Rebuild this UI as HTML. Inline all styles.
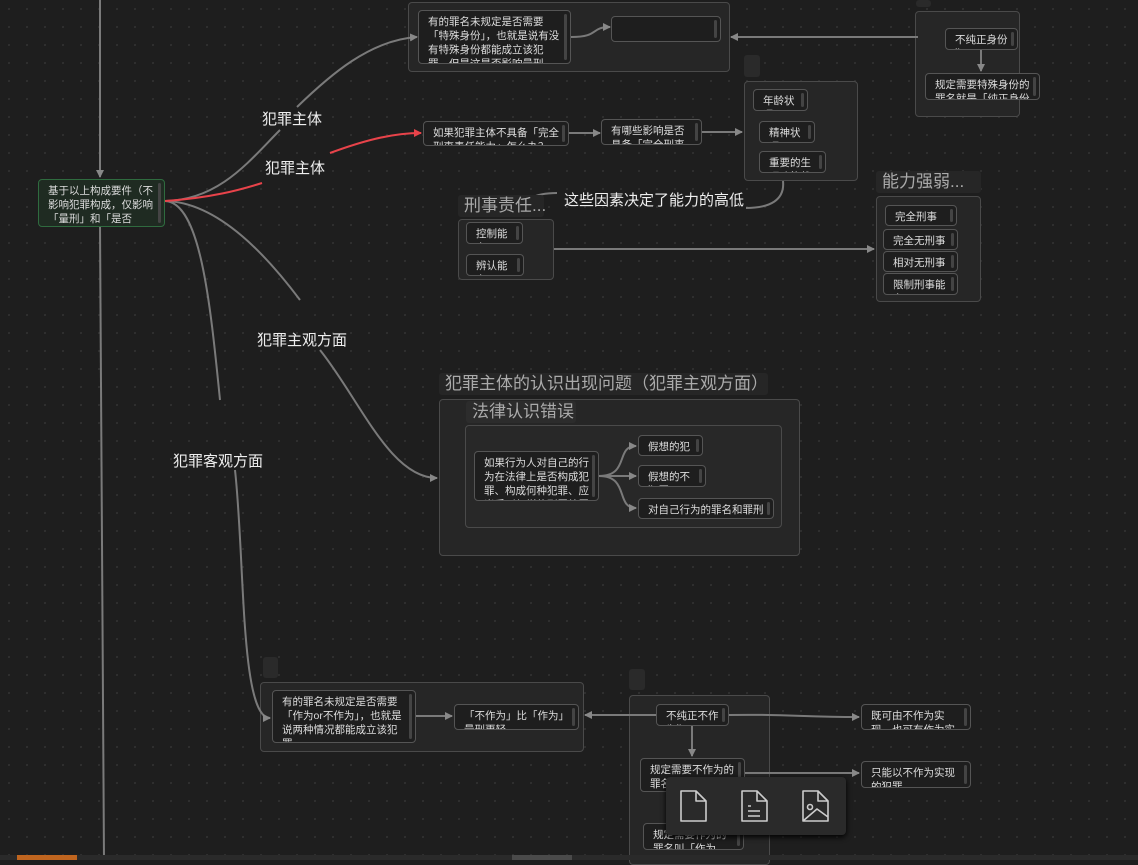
<!DOCTYPE html>
<html><head><meta charset="utf-8"><style>
*{margin:0;padding:0;box-sizing:border-box}
body{width:1138px;height:860px;overflow:hidden;background:#1e1e1e;background-image:radial-gradient(#303030 1px,transparent 1.2px);background-size:18px 18px;font-family:"Liberation Sans","Noto Sans CJK SC",sans-serif;position:relative}
.g{position:absolute;background:#262626;border:1px solid #4a4a4a;border-radius:4px;z-index:0}
.n{position:absolute;background:#1e1e1e;border:1px solid #555;border-radius:4px;color:#ddd;font-size:10.5px;line-height:14px;padding:4px 9px 0 9px;overflow:hidden;z-index:2}
.n:after{content:"";position:absolute;right:3px;top:3px;width:3px;height:calc(100% - 6px);background:#444;border-radius:2px}
.t{position:absolute;background:#262626;border-radius:3px;color:#aaa;font-size:17px;line-height:22px;padding:0 6px;white-space:nowrap;z-index:2}
.tab{position:absolute;background:#2a2a2a;border-radius:3px}
.l{position:absolute;color:#eee;font-size:15px;white-space:nowrap;line-height:18px;z-index:2}
svg{position:absolute;left:0;top:0;z-index:1}
</style></head><body>

<div class="g" style="left:408px;top:2px;width:322px;height:70px"></div>
<div class="tab" style="left:916px;top:0;width:15px;height:7px"></div>
<div class="g" style="left:915px;top:11px;width:105px;height:106px"></div>
<div class="tab" style="left:744px;top:55px;width:16px;height:22px"></div>
<div class="g" style="left:744px;top:81px;width:114px;height:100px"></div>
<div class="g" style="left:458px;top:219px;width:96px;height:61px"></div>
<div class="g" style="left:876px;top:196px;width:105px;height:106px"></div>
<div class="g" style="left:439px;top:399px;width:361px;height:157px"></div>
<div class="g" style="left:465px;top:425px;width:317px;height:103px;background:#282828"></div>
<div class="tab" style="left:263px;top:657px;width:15px;height:21px"></div>
<div class="g" style="left:260px;top:682px;width:324px;height:70px"></div>
<div class="tab" style="left:629px;top:669px;width:16px;height:21px"></div>
<div class="g" style="left:629px;top:695px;width:141px;height:170px"></div>

<svg width="1138" height="860">
<defs>
<marker id="a" markerWidth="8" markerHeight="8" refX="7" refY="4" orient="auto" markerUnits="userSpaceOnUse"><path d="M0,0L8,4L0,8z" fill="#888"/></marker>
<marker id="r" markerWidth="8" markerHeight="8" refX="7" refY="4" orient="auto" markerUnits="userSpaceOnUse"><path d="M0,0L8,4L0,8z" fill="#e8434a"/></marker>
</defs>
<g fill="none" stroke="#7a7a7a" stroke-width="2">
<path d="M100,0V177" marker-end="url(#a)"/>
<path d="M100,226L104,860"/>
<path d="M165,201C220,200 250,160 280,130"/>
<path d="M297,107C330,75 370,40 417,37" marker-end="url(#a)"/>
<path d="M165,201C220,202 270,260 300,300"/>
<path d="M320,350C360,400 390,478 437,478" marker-end="url(#a)"/>
<path d="M165,201C200,202 210,300 220,400"/>
<path d="M235,470C245,560 240,718 270,718" marker-end="url(#a)"/>
<path d="M571,37C600,37 590,27 610,27" marker-end="url(#a)"/>
<path d="M918,37H731" marker-end="url(#a)"/>
<path d="M981,50V71" marker-end="url(#a)"/>
<path d="M569,133H600" marker-end="url(#a)"/>
<path d="M702,132H742" marker-end="url(#a)"/>
<path d="M783,181C785,200 770,208 746,208"/>
<path d="M557,193C535,193 520,200 520,215" marker-end="url(#a)"/>
<path d="M554,249H874" marker-end="url(#a)"/>
<path d="M599,476C630,476 615,446 636,446" marker-end="url(#a)"/>
<path d="M599,476H636" marker-end="url(#a)"/>
<path d="M599,476C630,476 615,508 636,508" marker-end="url(#a)"/>
<path d="M416,716H452" marker-end="url(#a)"/>
<path d="M657,715H585" marker-end="url(#a)"/>
<path d="M729,715C790,714 800,717 859,717" marker-end="url(#a)"/>
<path d="M692,725V756" marker-end="url(#a)"/>
<path d="M745,773H859" marker-end="url(#a)"/>
</g>
<path d="M165,201C210,198 240,190 262,183" fill="none" stroke="#e8434a" stroke-width="2"/>
<path d="M330,153C360,142 390,133 421,133" fill="none" stroke="#e8434a" stroke-width="2" marker-end="url(#r)"/>
</svg>

<div class="n" style="left:38px;top:179px;width:127px;height:48px;background:#1f2b22;border-color:#2f6b3f">基于以上构成要件（不影响犯罪构成，仅影响「量刑」和「是否</div>
<div class="n" style="left:418px;top:10px;width:153px;height:54px">有的罪名未规定是否需要「特殊身份」，也就是说有没有特殊身份都能成立该犯罪。但是这是否影响量刑呢？</div>
<div class="n" style="left:611px;top:16px;width:110px;height:26px"></div>
<div class="n" style="left:945px;top:28px;width:73px;height:22px">不纯正身份犯</div>
<div class="n" style="left:925px;top:73px;width:115px;height:27px">规定需要特殊身份的罪名就是「纯正身份</div>

<div class="l" style="left:262px;top:111px">犯罪主体</div>
<div class="l" style="left:265px;top:160px">犯罪主体</div>
<div class="l" style="left:257px;top:332px">犯罪主观方面</div>
<div class="l" style="left:173px;top:453px">犯罪客观方面</div>
<div class="l" style="left:564px;top:192px">这些因素决定了能力的高低</div>

<div class="n" style="left:423px;top:121px;width:146px;height:25px">如果犯罪主体不具备「完全刑事责任能力」怎么办？</div>
<div class="n" style="left:601px;top:119px;width:101px;height:26px">有哪些影响是否具备「完全刑事责任</div>
<div class="n" style="left:753px;top:89px;width:55px;height:22px">年龄状况</div>
<div class="n" style="left:759px;top:121px;width:56px;height:22px">精神状况</div>
<div class="n" style="left:759px;top:151px;width:67px;height:22px">重要的生理功能状况</div>

<div class="t" style="left:458px;top:195px;width:86px">刑事责任...</div>
<div class="n" style="left:466px;top:222px;width:57px;height:22px">控制能力</div>
<div class="n" style="left:466px;top:254px;width:58px;height:22px">辨认能力</div>

<div class="t" style="left:876px;top:171px;width:105px">能力强弱...</div>
<div class="n" style="left:885px;top:205px;width:72px;height:21px">完全刑事能力</div>
<div class="n" style="left:883px;top:229px;width:75px;height:21px">完全无刑事能力</div>
<div class="n" style="left:883px;top:251px;width:75px;height:21px">相对无刑事能力</div>
<div class="n" style="left:883px;top:273px;width:75px;height:22px">限制刑事能力</div>

<div class="t" style="left:439px;top:373px;width:329px">犯罪主体的认识出现问题（犯罪主观方面）</div>
<div class="t" style="left:466px;top:401px;width:110px;background:#2c2c2c">法律认识错误</div>
<div class="n" style="left:474px;top:451px;width:125px;height:50px">如果行为人对自己的行为在法律上是否构成犯罪、构成何种犯罪、应当受到何样的刑罚处罚</div>
<div class="n" style="left:638px;top:435px;width:65px;height:21px">假想的犯罪</div>
<div class="n" style="left:638px;top:465px;width:68px;height:22px">假想的不犯罪</div>
<div class="n" style="left:638px;top:498px;width:136px;height:21px">对自己行为的罪名和罪刑轻重的误解</div>

<div class="n" style="left:272px;top:690px;width:144px;height:53px">有的罪名未规定是否需要「作为or不作为」，也就是说两种情况都能成立该犯罪</div>
<div class="n" style="left:454px;top:704px;width:125px;height:26px">「不作为」比「作为」量刑更轻</div>
<div class="n" style="left:656px;top:704px;width:73px;height:22px">不纯正不作为犯</div>
<div class="n" style="left:640px;top:758px;width:105px;height:34px">规定需要不作为的罪名</div>
<div class="n" style="left:643px;top:823px;width:101px;height:27px">规定需要作为的罪名叫「作为</div>
<div class="n" style="left:861px;top:704px;width:110px;height:26px">既可由不作为实现，也可有作为实</div>
<div class="n" style="left:861px;top:761px;width:110px;height:27px">只能以不作为实现的犯罪</div>

<div style="position:absolute;left:666px;top:777px;width:180px;height:58px;background:#2a2a2a;border-radius:4px;box-shadow:0 2px 6px #000;z-index:3"></div>
<svg width="1138" height="860" style="pointer-events:none;z-index:4"><g fill="none" stroke="#ccc" stroke-width="1.6" stroke-linejoin="round">
<path d="M681,791h15l10,10v20h-25z M696,791v10h10"/>
<path d="M742,791h15l10,10v20h-25z M757,791v10h10 M748,806h3 M748,811h12 M748,816h12"/>
<path d="M803,791h15l10,10v20h-25z M818,791v10h10 M803,821l14,-12l11,8"/><circle cx="810" cy="807" r="2.5"/></g></svg>

<div style="position:absolute;left:0;top:855px;width:1138px;height:5px;background:#2a2a2a;z-index:5"></div>
<div style="position:absolute;left:17px;top:855px;width:60px;height:5px;background:#c0651f;z-index:5"></div>
<div style="position:absolute;left:512px;top:855px;width:60px;height:5px;background:#4a4a4a;z-index:5"></div>
</body></html>
